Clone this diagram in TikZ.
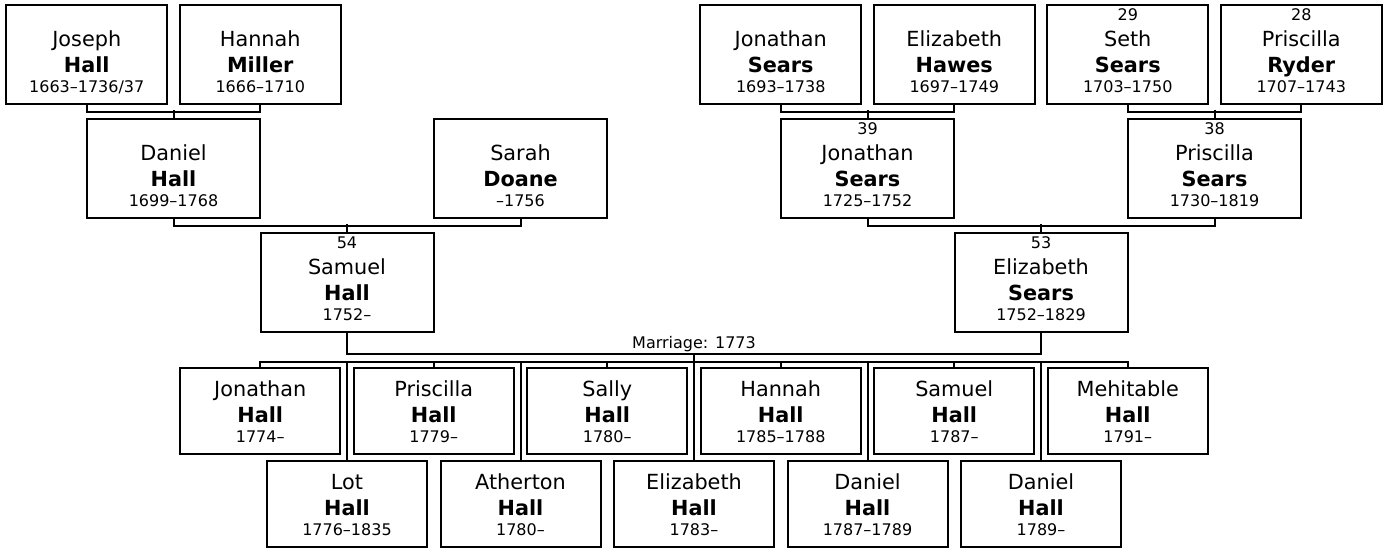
\documentclass[tikz,border=0pt]{standalone}
\usepackage{fontspec}
\setmainfont{DejaVu Sans}
\newcommand{\yrs}{\fontsize{12pt}{14pt}\selectfont}
\begin{document}
\begin{tikzpicture}[x=0.75pt, y=-0.75pt, line width=1.5pt,
    box/.style={draw, inner sep=0pt, align=center, text depth=8.25pt,
                font=\fontsize{15.6pt}{19.5pt}\selectfont},
    elder/.style={box, minimum width=120.4pt, text height=66pt},
    parent/.style={box, minimum width=129.75pt, text height=66pt},
    child/.style={box, minimum width=120pt, text height=56.25pt}]
\useasboundingbox (0,0) rectangle (1386,548);
% great-grandparents
\node[elder] (jhall) at (86.75,54.35) {Joseph\\ \textbf{Hall}\\[-4.1pt] {\yrs 1663–1736/37}};
\node[elder] (hmiller) at (260.25,54.35) {Hannah\\ \textbf{Miller}\\[-4.1pt] {\yrs 1666–1710}};
\node[elder] (jsears) at (780.75,54.35) {Jonathan\\ \textbf{Sears}\\[-4.1pt] {\yrs 1693–1738}};
\node[elder] (ehawes) at (954.25,54.35) {Elizabeth\\ \textbf{Hawes}\\[-4.1pt] {\yrs 1697–1749}};
\node[elder] (ssears) at (1127.75,54.35) {{\yrs 29}\\ Seth\\ \textbf{Sears}\\[-4.1pt] {\yrs 1703–1750}};
\node[elder] (pryder) at (1301.25,54.35) {{\yrs 28}\\ Priscilla\\ \textbf{Ryder}\\[-4.1pt] {\yrs 1707–1743}};
% grandparents
\node[parent] (dhall) at (173.5,168.35) {Daniel\\ \textbf{Hall}\\[-4.1pt] {\yrs 1699–1768}};
\node[parent] (sdoane) at (520.5,168.35) {Sarah\\ \textbf{Doane}\\[-4.1pt] {\yrs –1756}};
\node[parent] (jsearsjr) at (867.5,168.35) {{\yrs 39}\\ Jonathan\\ \textbf{Sears}\\[-4.1pt] {\yrs 1725–1752}};
\node[parent] (psears) at (1214.5,168.35) {{\yrs 38}\\ Priscilla\\ \textbf{Sears}\\[-4.1pt] {\yrs 1730–1819}};
% parents
\node[parent] (shall) at (347,282.5) {{\yrs 54}\\ Samuel\\ \textbf{Hall}\\[-4.1pt] {\yrs 1752–}};
\node[parent] (esears) at (1041,282.5) {{\yrs 53}\\ Elizabeth\\ \textbf{Sears}\\[-4.1pt] {\yrs 1752–1829}};
% children
\node[child] (c1) at (260.25,410.85) {Jonathan\\ \textbf{Hall}\\[-4.1pt] {\yrs 1774–}};
\node[child] (c2) at (347,503.9) {Lot\\ \textbf{Hall}\\[-4.1pt] {\yrs 1776–1835}};
\node[child] (c3) at (433.75,410.85) {Priscilla\\ \textbf{Hall}\\[-4.1pt] {\yrs 1779–}};
\node[child] (c4) at (520.5,503.9) {Atherton\\ \textbf{Hall}\\[-4.1pt] {\yrs 1780–}};
\node[child] (c5) at (607.25,410.85) {Sally\\ \textbf{Hall}\\[-4.1pt] {\yrs 1780–}};
\node[child] (c6) at (694,503.9) {Elizabeth\\ \textbf{Hall}\\[-4.1pt] {\yrs 1783–}};
\node[child] (c7) at (780.75,410.85) {Hannah\\ \textbf{Hall}\\[-4.1pt] {\yrs 1785–1788}};
\node[child] (c8) at (867.5,503.9) {Daniel\\ \textbf{Hall}\\[-4.1pt] {\yrs 1787–1789}};
\node[child] (c9) at (954.25,410.85) {Samuel\\ \textbf{Hall}\\[-4.1pt] {\yrs 1787–}};
\node[child] (c10) at (1041,503.9) {Daniel\\ \textbf{Hall}\\[-4.1pt] {\yrs 1789–}};
\node[child] (c11) at (1127.75,410.85) {Mehitable\\ \textbf{Hall}\\[-4.1pt] {\yrs 1791–}};
% couples and their offspring
\draw (jhall.south) -- ++(0,6.7) -| (hmiller.south);
\draw (dhall.north) -- ++(0,-8);
\draw (jsears.south) -- ++(0,6.7) -| (ehawes.south);
\draw (jsearsjr.north) -- ++(0,-8);
\draw (ssears.south) -- ++(0,6.7) -| (pryder.south);
\draw (psears.north) -- ++(0,-8);
\draw (dhall.south) -- ++(0,7.3) -| (sdoane.south);
\draw (shall.north) -- ++(0,-7.5);
\draw (jsearsjr.south) -- ++(0,7.3) -| (psears.south);
\draw (esears.north) -- ++(0,-7.5);
% marriage
\draw (shall.south) -- ++(0,20.85) coordinate (wed0) -| (esears.south);
\coordinate (wed) at (wed0 -| c6);
\node[font=\yrs, anchor=base] (wedlabel) at (694,349) {Marriage: 1773};
\draw (wed) -- (c6.north);
\coordinate (bar) at (0,362);
\draw (c1.north) -- (c1.north |- bar) -| (c11.north);
\foreach \k in {2,3,4,5,7,8,9,10}
  \draw (c\k.north) -- (c\k.north |- bar);
\end{tikzpicture}
\end{document}
